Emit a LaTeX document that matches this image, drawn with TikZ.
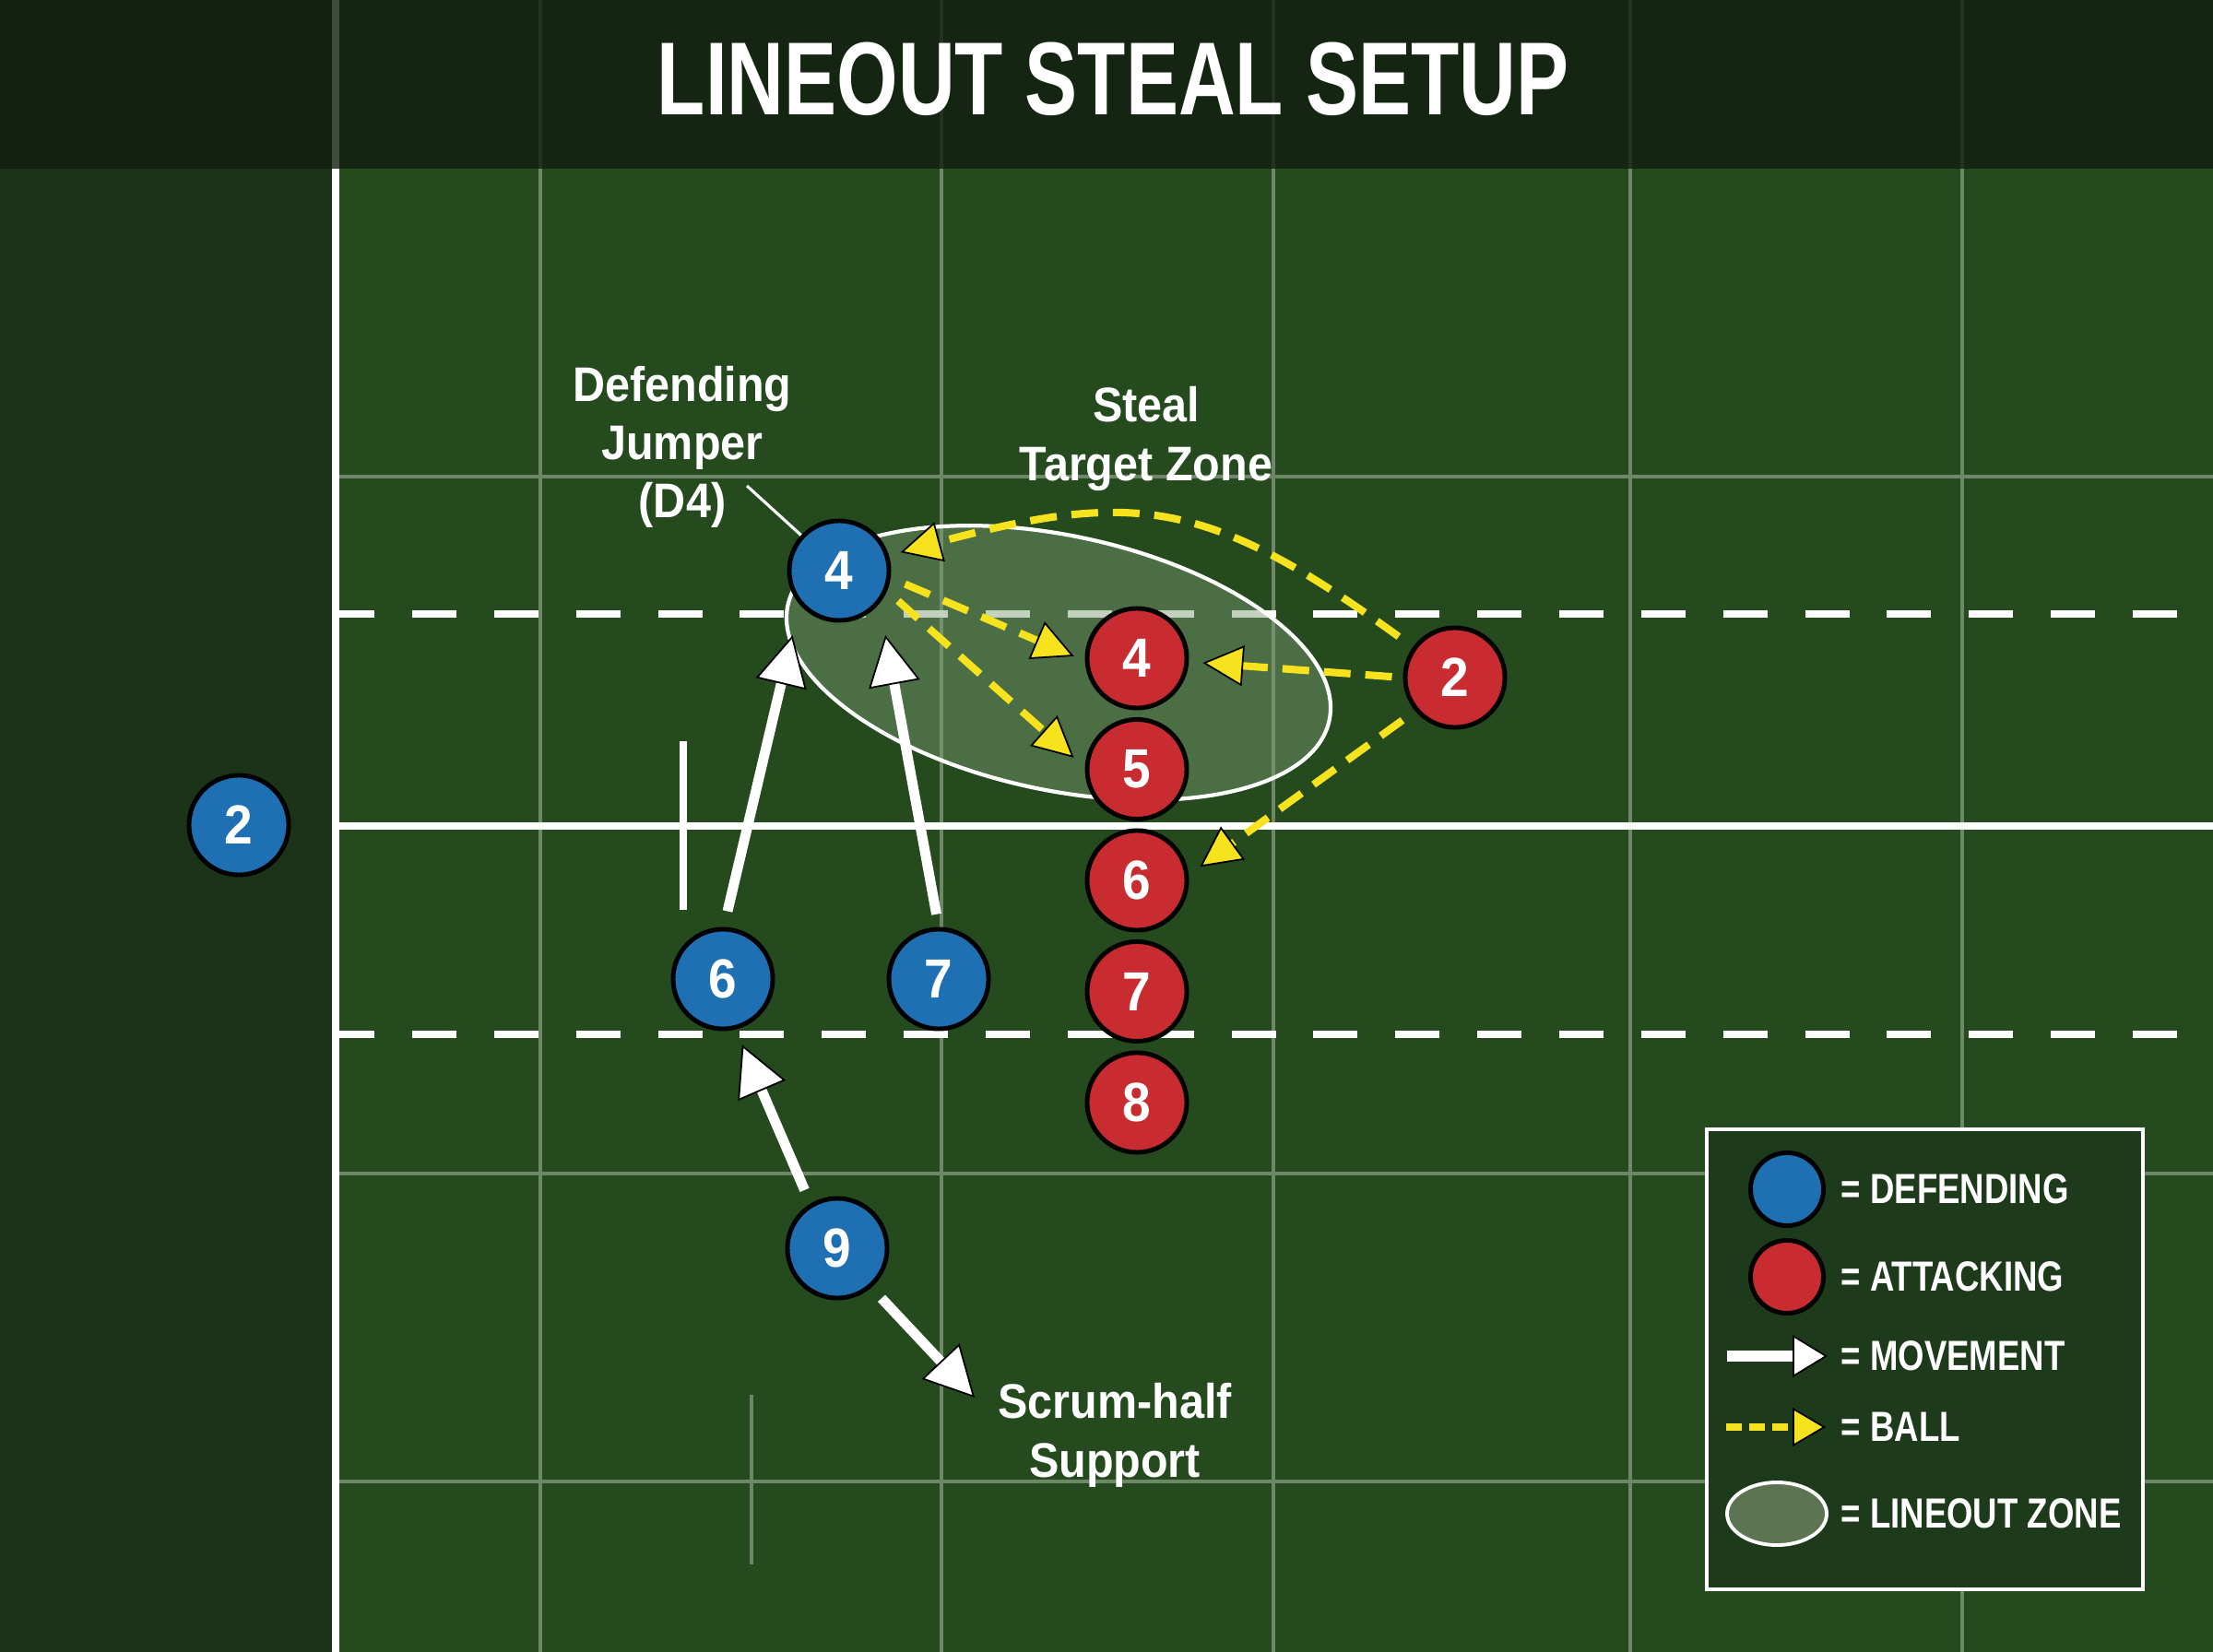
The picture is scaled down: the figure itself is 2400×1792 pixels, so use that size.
\documentclass[tikz,border=0pt]{standalone}
\usepackage{fontspec}
\usepackage{xcolor}
\usepackage{tikz}
\usetikzlibrary{positioning, arrows.meta}

\newfontfamily\titlefont{Liberation Sans}[FakeStretch=0.76]
\newfontfamily\tagfont{Liberation Sans}[FakeStretch=0.92]
\newfontfamily\keyfont{Liberation Sans}[FakeStretch=0.8]

\definecolor{pitch}{RGB}{36,74,30}
\definecolor{pitchdark}{RGB}{27,52,23}
\definecolor{band}{RGB}{17,29,16}
\definecolor{gridgrey}{RGB}{110,135,104}
\definecolor{defblue}{RGB}{30,112,178}
\definecolor{attred}{RGB}{200,44,48}
\definecolor{ballyellow}{RGB}{247,226,30}
\definecolor{zonegreen}{RGB}{125,155,115}
\definecolor{zonekey}{RGB}{92,116,82}
\definecolor{keygreen}{RGB}{29,58,26}

\tikzset{
    player/.style={circle, draw=black, line width=1.4pt, minimum size=10.8mm, inner sep=0pt,
        text=white, font=\tagfont\bfseries\fontsize{17}{17}\selectfont},
    defender/.style={player, fill=defblue},
    attacker/.style={player, fill=attred},
    calltext/.style={text=white, align=center, font=\tagfont\bfseries\fontsize{15}{18}\selectfont},
    keytext/.style={text=white, anchor=west, inner sep=0pt, font=\keyfont\bfseries\fontsize{13}{13}\selectfont},
    move/.style={white, line width=3.1pt,
        -{Triangle[length=5.4mm, width=5.6mm, fill=white, color=black, line width=0.5pt]}},
    ball/.style={ballyellow, line width=2.3pt, dash pattern=on 2.9mm off 1.6mm,
        -{Triangle[length=4.4mm, width=4.4mm, fill=ballyellow, color=black, line width=0.5pt]}},
    gridline/.style={gridgrey, line width=0.9pt},
    fieldline/.style={white, line width=2.4pt},
    zone/.style={draw=white, line width=1.2pt, fill=zonegreen, fill opacity=0.45},
}

\begin{document}
\begin{tikzpicture}[x=0.01cm, y=-0.01cm]
    \useasboundingbox (0,0) rectangle (2400,1792);

    % pitch and grid
    \fill[pitch] (0,0) rectangle (2400,1792);
    \fill[pitchdark] (0,0) rectangle (364,1792);
    \foreach \gx in {586,1021,1381,1768,2128}
        \draw[gridline] (\gx,0) -- (\gx,1792);
    \foreach \gy in {517,1273,1607}
        \draw[gridline] (364,\gy) -- (2400,\gy);
    \draw[gridline] (815,1513) -- (815,1697);

    % field markings
    \draw[fieldline] (364,0) -- (364,1792);
    \draw[fieldline] (364,896) -- (2400,896);
    \draw[fieldline, line width=2pt] (741,804) -- (741,987);
    \foreach \ly in {666,1122}
        \draw[fieldline, line width=2.2pt, dash pattern=on 4.8mm off 4.08mm, dash phase=0.58mm]
            (364,\ly) -- (2400,\ly);

    % title band
    \fill[band, opacity=0.8] (0,0) rectangle (2400,183);
    \node[text=white, font=\titlefont\bfseries\fontsize{32}{38}\selectfont] (title) at (1207,86)
        {LINEOUT STEAL SETUP};

    % lineout zone
    \draw[zone, rotate around={-12:(1148,719)}] (1148,719) ellipse [x radius=30mm, y radius=13.8mm];

    % defending side
    \node[defender] (D2) at (259,895) {2};
    \node[defender] (D4) at (910,619) {4};
    \node[defender] (D6) at (784,1062) {6};
    \node[defender, right=12.1mm of D6] (D7) {7};
    \node[defender] (D9) at (908,1354) {9};

    % attacking side
    \node[attacker] (R4) at (1233,714) {4};
    \node[attacker, below=0.75mm of R4] (R5) {5};
    \node[attacker, below=0.75mm of R5] (R6) {6};
    \node[attacker, below=0.75mm of R6] (R7) {7};
    \node[attacker, below=0.75mm of R7] (R8) {8};
    \node[attacker] (R2) at (1578,735) {2};

    % call-outs
    \node[calltext] (jumper) at (740,485) {Defending\\Jumper\\(D4)};
    \node[calltext] (target) at (1243,476) {Steal\\Target Zone};
    \node[calltext] (support) at (1209,1557) {Scrum-half\\Support};
    \coordinate (jumperend) at (810,527);
    \coordinate (supporttip) at (1057,1516);
    \draw[white, line width=0.9pt] (jumperend) -- (D4.137);

    % ball
    \draw[ball, shorten <=1.9mm, shorten >=1.3mm] (R2.144) to[out=144, in=15, looseness=1.22] (D4.17);
    \draw[ball, shorten <=1.2mm, shorten >=1.5mm] (R2.180) -- (R4.356);
    \draw[ball, shorten <=1.7mm, shorten >=1.5mm] (R2.220) -- (R6.6);
    \draw[ball, shorten <=1.7mm, shorten >=1.3mm] (D4.352) -- (R4.183);
    \draw[ball, shorten <=1.6mm, shorten >=1.6mm] (D4.337) -- (R5.178);

    % movement
    \draw[move, shorten <=1.75mm, shorten >=3.4mm] (D6.89) -- (D4.221);
    \draw[move, shorten <=1.4mm, shorten >=3.5mm] (D7.90) -- (D4.321);
    \draw[move, shorten <=1.6mm, shorten >=1.8mm] (D9.121) -- (D6.284);
    \draw[move, shorten <=1.6mm] (D9.311) -- (supporttip);

    % key
    \draw[fill=keygreen, draw=white, line width=1.1pt] (1851,1225) rectangle (2324,1724);
    \node[defender, minimum size=7.9mm] (keydef) at (1938,1290) {};
    \node[attacker, minimum size=7.9mm] (keyatt) at (1938,1385) {};
    \coordinate (keymovea) at (1873,1471);
    \coordinate (keymoveb) at (1982,1471);
    \coordinate (keyballa) at (1872,1548);
    \coordinate (keyballb) at (1980,1548);
    \draw[move, line width=3.3pt,
        -{Triangle[length=3.8mm, width=4.6mm, fill=white, color=black, line width=0.5pt]}] (keymovea) -- (keymoveb);
    \draw[ball, line width=2.5pt, dash pattern=on 1.7mm off 0.8mm,
        -{Triangle[length=3.6mm, width=4.2mm, fill=ballyellow, color=black, line width=0.5pt]}] (keyballa) -- (keyballb);
    \draw[draw=white, line width=1.1pt, fill=zonekey] (1927,1642) ellipse [x radius=5.4mm, y radius=3.4mm];
    \node[keytext] (keydeftext) at (1996,1290) {= DEFENDING};
    \node[keytext] (keyatttext) at (1996,1385) {= ATTACKING};
    \node[keytext] (keymovetext) at (1996,1471) {= MOVEMENT};
    \node[keytext] (keyballtext) at (1996,1548) {= BALL};
    \node[keytext] (keyzonetext) at (1996,1642) {= LINEOUT ZONE};
\end{tikzpicture}
\end{document}
